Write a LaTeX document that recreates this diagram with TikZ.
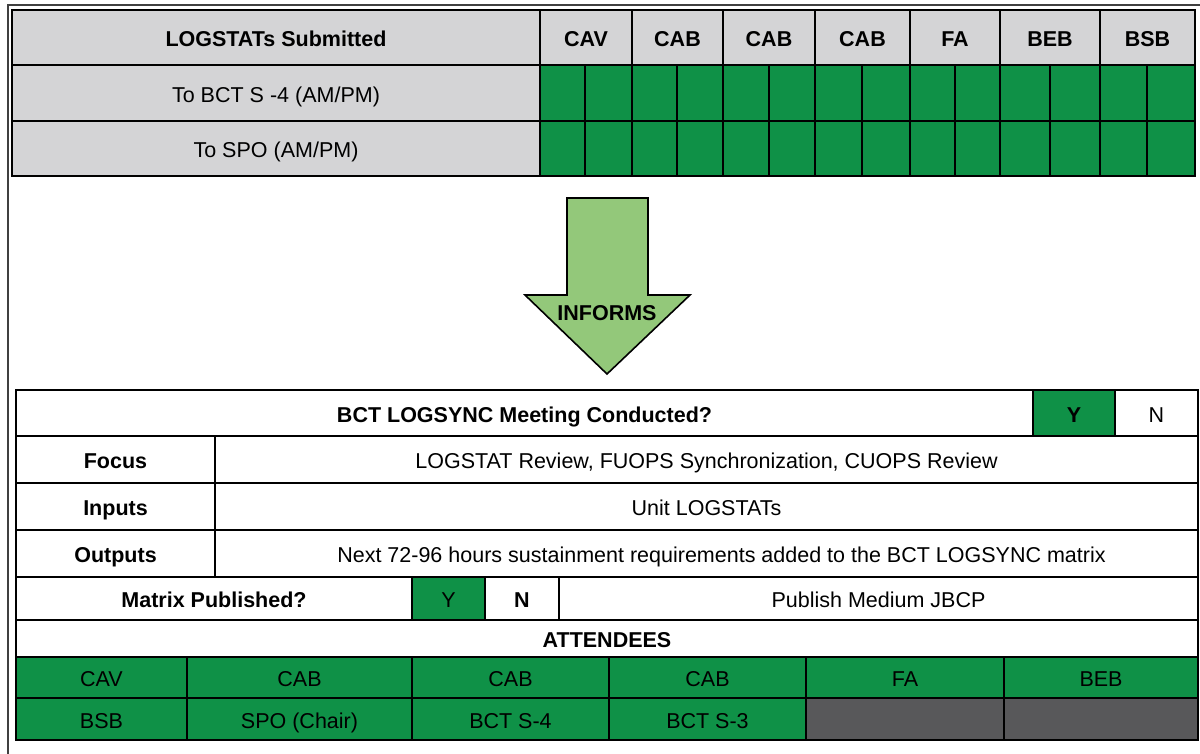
\documentclass[tikz,border=0pt]{standalone}
\usepackage{fontspec}
\setmainfont{Liberation Sans}
\setsansfont{Liberation Sans}
\definecolor{cgreen}{HTML}{0F9147}
\definecolor{lgrey}{HTML}{D4D4D6}
\definecolor{dgrey}{HTML}{58585A}
\definecolor{agreen}{HTML}{93C87A}
\newcommand\mycell[7]{\node[cellst, fill=#6, minimum width={(#4-#2)*1pt}, minimum height={(#5-#3)*1pt}, anchor=north west] (#1) at (#2,-#3) {#7};}
\begin{document}
\begin{tikzpicture}[x=1pt,y=1pt,
  cellst/.style={draw=black, line width=2pt, inner sep=0pt, outer sep=0pt, text height=18pt, text depth=0pt, font=\fontsize{21.5}{25}\selectfont},
  bf/.style={font=\fontsize{21.5}{25}\selectfont\bfseries}]
\useasboundingbox (0,0) rectangle (1200,-753);
\fill[white] (0,0) rectangle (1200,-753);
% outer frame
\draw[line width=1.6pt, black!75] (1200,-5) -- (8,-5) -- (8,-760);
% top table
\mycell{hlog}{12}{10}{540}{65}{lgrey}{\bfseries LOGSTATs Submitted}
\mycell{rbct}{12}{65}{540}{121}{lgrey}{To BCT S -4 (AM/PM)}
\mycell{rspo}{12}{121}{540}{176}{lgrey}{To SPO (AM/PM)}
\foreach \a/\b/\t [count=\i] in {540/632/CAV,632/723/CAB,723/815/CAB,815/910/CAB,910/1000/FA,1000/1100/BEB,1100/1195/BSB}
  {\mycell{g\i}{\a}{10}{\b}{65}{lgrey}{\bfseries \t}}
\foreach \a/\b [count=\i] in {540/585,585/632,632/677,677/723,723/769,769/815,815/862,862/910,910/955,955/1000,1000/1050,1050/1100,1100/1147,1147/1195}
  {\mycell{sa\i}{\a}{65}{\b}{121}{cgreen}{}
   \mycell{sb\i}{\a}{121}{\b}{176}{cgreen}{}}
\draw[line width=2.6pt] (hlog.north west) rectangle (sb14.south east);
% arrow
\draw[line width=1.6pt, fill=agreen, line join=miter]
  (567,-198) -- (648,-198) -- (648,-295) -- (690,-295) -- (607,-374) -- (525,-295) -- (567,-295) -- cycle;
\node[bf] (informs) at (607,-313) {INFORMS};
% bottom table
\mycell{meet}{16}{390}{1033}{436}{white}{\bfseries BCT LOGSYNC Meeting Conducted?}
\mycell{my}{1033}{390}{1115}{436}{cgreen}{\bfseries Y}
\mycell{mn}{1115}{390}{1198}{436}{white}{N}
\mycell{focl}{16}{436}{215}{483}{white}{\bfseries Focus}
\mycell{focv}{215}{436}{1198}{483}{white}{LOGSTAT Review, FUOPS Synchronization, CUOPS Review}
\mycell{inpl}{16}{483}{215}{530}{white}{\bfseries Inputs}
\mycell{inpv}{215}{483}{1198}{530}{white}{Unit LOGSTATs}
\mycell{outl}{16}{530}{215}{577}{white}{\bfseries Outputs}
\mycell{outv}{215}{530}{1198}{577}{white}{\hspace*{30pt}Next 72-96 hours sustainment requirements added to the BCT LOGSYNC matrix}
\mycell{matl}{16}{577}{412}{620}{white}{\bfseries Matrix Published?}
\mycell{maty}{412}{577}{485}{620}{cgreen}{Y}
\mycell{matn}{485}{577}{559}{620}{white}{\bfseries N}
\mycell{pub}{559}{577}{1198}{620}{white}{Publish Medium JBCP}
\mycell{att}{16}{620}{1198}{657}{white}{\bfseries ATTENDEES}
\foreach \a/\b/\t [count=\i] in {16/187/CAV,187/412/CAB,412/609/CAB,609/806/CAB,806/1004/FA,1004/1198/BEB}
  {\mycell{aa\i}{\a}{657}{\b}{698}{cgreen}{\t}}
\foreach \a/\b/\t [count=\i] in {16/187/BSB,187/412/SPO (Chair),412/609/BCT S-4,609/806/BCT S-3}
  {\mycell{ab\i}{\a}{698}{\b}{740}{cgreen}{\t}}
\mycell{ab5}{806}{698}{1004}{740}{dgrey}{}
\mycell{ab6}{1004}{698}{1198}{740}{dgrey}{}
\draw[line width=2.6pt] (meet.north west) rectangle (ab6.south east);
\end{tikzpicture}
\end{document}
